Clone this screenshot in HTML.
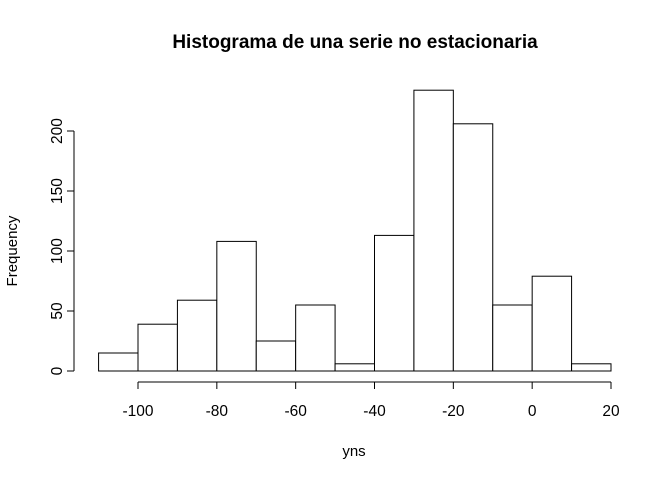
<!DOCTYPE html>
<html><head><meta charset="utf-8"><style>body{margin:0;background:#fff}svg{display:block;font-family:"Liberation Sans",Arial,sans-serif}</style></head>
<body>
<svg id="chart" width="672" height="480">
<text x="355" y="48" text-anchor="middle" font-size="19" font-weight="bold">Histograma de una serie no estacionaria</text>
<text x="354" y="456" text-anchor="middle" font-size="15">yns</text>
<text transform="translate(17,251) rotate(-90)" text-anchor="middle" font-size="15">Frequency</text>
<g id="bars"></g><g id="xaxis"></g><g id="yaxis"></g>
</svg>
<script>
const breaks=[-110,-100,-90,-80,-70,-60,-50,-40,-30,-20,-10,0,10,20];
const counts=[15,39,59,108,25,55,6,113,234,206,55,79,6];
const xTicks=[-100,-80,-60,-40,-20,0,20];
const yTicks=[0,50,100,150,200];
const NS="http://www.w3.org/2000/svg";
const x=v=>138+(v+100)*473/120;
const y=v=>371-v*1.2;
function mk(t,a,p){const e=document.createElementNS(NS,t);for(const k in a)e.setAttribute(k,a[k]);p.appendChild(e);return e;}
const bars=document.getElementById('bars');
counts.forEach((c,i)=>{const r=mk('rect',{x:x(breaks[i]),y:y(c),width:x(breaks[i+1])-x(breaks[i]),height:y(0)-y(c),fill:'#fff',stroke:'#000','stroke-width':1},bars);

});
const xa=document.getElementById('xaxis');
mk('line',{x1:x(xTicks[0]),x2:x(xTicks[xTicks.length-1]),y1:382,y2:382,stroke:'#000'},xa);
xTicks.forEach(t=>{mk('line',{x1:x(t),x2:x(t),y1:382,y2:389,stroke:'#000'},xa);
const tx=mk('text',{x:x(t),y:416,'text-anchor':'middle','font-size':15.5},xa);tx.textContent=t;

});
const ya=document.getElementById('yaxis');
mk('line',{x1:74,x2:74,y1:y(yTicks[0]),y2:y(yTicks[yTicks.length-1]),stroke:'#000'},ya);
yTicks.forEach(t=>{mk('line',{x1:67,x2:74,y1:y(t),y2:y(t),stroke:'#000'},ya);
const tx=mk('text',{transform:`translate(62,${y(t)}) rotate(-90)`,'text-anchor':'middle','font-size':15.5},ya);tx.textContent=t;

});
</script>
</body></html>
